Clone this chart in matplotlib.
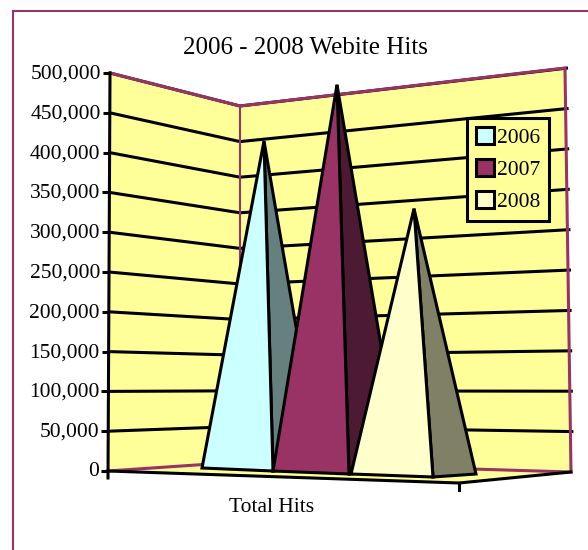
import matplotlib
matplotlib.use('Agg')
import matplotlib.pyplot as plt
from matplotlib.patches import Patch, Polygon, Rectangle

plt.rcParams['font.family'] = ['Liberation Serif', 'DejaVu Serif']

# Values
years = ['2006', '2007', '2008']
hits = [423000, 499000, 344000]
axis_ticks = [0, 50000, 100000, 150000, 200000, 250000, 300000, 350000, 400000, 450000, 500000]
category = 'Total Hits'
title = '2006 - 2008 Webite Hits'

face_colors = ['#CCFFFF', '#993366', '#FFFFCC']
side_colors = ['#668080', '#4D1A33', '#808066']
border = '#993366'
wall = '#FFFF99'
lw = 2.2

# Fake 3D geometry, in image pixels
max_val = 500000.0
wall_left = (108, 471, 110, 73)
wall_mid = (240, 462, 240, 106)
wall_right = (571, 472, 565, 68)
front = (459, 483)
pyr_scale = 0.78 / 1000
# left base corner, middle base corner, right base corner, apex x
pyr_base = [((202, 468), (273, 471), (320, 466), 264),
            ((273, 471), (349, 474), (402, 470), 337),
            ((351, 474), (433, 477), (476, 474), 414)]


def on_wall(w, v):
    f = v / max_val
    return w[0] + (w[2] - w[0]) * f, w[1] + (w[3] - w[1]) * f


fig = plt.figure(figsize=(5.88, 5.5), dpi=100)
ax = fig.add_axes([0, 0, 1, 1])
ax.set_xlim(0, 588)
ax.set_ylim(550, 0)
ax.axis('off')

# chart frame runs off the right and bottom of the image
ax.add_patch(Rectangle((12.5, 11), 620, 600, fc='white', ec=border, lw=1.5, zorder=0))

# walls and floor
ax.add_patch(Polygon([on_wall(wall_left, 0), on_wall(wall_left, max_val), on_wall(wall_mid, max_val),
                      on_wall(wall_mid, 0)], fc=wall, ec='none', zorder=1))
ax.add_patch(Polygon([on_wall(wall_mid, 0), on_wall(wall_mid, max_val), on_wall(wall_right, max_val),
                      on_wall(wall_right, 0)], fc=wall, ec='none', zorder=1))
ax.add_patch(Polygon([on_wall(wall_left, 0), on_wall(wall_mid, 0), on_wall(wall_right, 0), front],
                     fc=wall, ec='none', zorder=1))

# gridlines
for v in axis_ticks[1:]:
    pts = [on_wall(wall_left, v), on_wall(wall_mid, v), on_wall(wall_right, v)]
    pts[2] = (pts[2][0] + 3, pts[2][1])
    ax.plot([p[0] for p in pts], [p[1] for p in pts], color='black', lw=lw, zorder=2,
            solid_joinstyle='miter', solid_capstyle='butt')

# maroon wall edges
top = [on_wall(wall_left, max_val), on_wall(wall_mid, max_val), on_wall(wall_right, max_val), on_wall(wall_right, 0),
       on_wall(wall_mid, 0), on_wall(wall_left, 0)]
ax.plot([p[0] for p in top], [p[1] for p in top], color=border, lw=lw, zorder=2.5, solid_joinstyle='miter')
ax.plot([wall_mid[0], wall_mid[2]], [wall_mid[1], wall_mid[3]], color=border, lw=1.5, zorder=2.5)

# value axis and front floor edges
ax.plot([wall_left[0], wall_left[2]], [wall_left[1] + 7, wall_left[3]], color='black', lw=lw, zorder=3)
ax.plot([wall_left[0], front[0], wall_right[0]], [wall_left[1], front[1], wall_right[1]], color='black',
        lw=lw, zorder=3, solid_joinstyle='miter')
ax.plot([front[0], front[0]], [front[1], front[1] + 7], color='black', lw=lw, zorder=3)

for v in axis_ticks:
    x, y = on_wall(wall_left, v)
    ax.plot([x - 7, x], [y, y], color='black', lw=lw, zorder=3, solid_capstyle='butt')
    ax.text(x - 9, y + 1, f'{v:,}', ha='right', va='center', fontsize=15.5, color='black')

# pyramids, back to front
for i, v in enumerate(hits):
    left, mid, right, apex_x = pyr_base[i]
    apex = (apex_x, mid[1] - v * pyr_scale)
    z = 4 + i
    ax.add_patch(Polygon([apex, mid, right], fc=side_colors[i], ec='black', lw=lw, joinstyle='miter', zorder=z))
    ax.add_patch(Polygon([apex, left, mid], fc=face_colors[i], ec='black', lw=lw, joinstyle='miter', zorder=z))

ax.text(305, 48, title, ha='center', va='center', fontsize=18, color='black')
ax.text(272, 507, category, ha='center', va='center', fontsize=15.5, color='black')

handles = [Patch(fc=c, ec='black', lw=lw) for c in face_colors]
leg = ax.legend(handles, years, loc='upper left', bbox_to_anchor=(467 / 588, 1 - 118 / 550), fontsize=15.5,
                handlelength=0.85, handleheight=0.85, handletextpad=0.12, labelspacing=0.5, borderpad=0.42,
                borderaxespad=0, fancybox=False, framealpha=1, facecolor=wall, edgecolor='black')
leg.get_frame().set_linewidth(lw)
leg.set_zorder(10)

fig.savefig('out.png', dpi=100)
